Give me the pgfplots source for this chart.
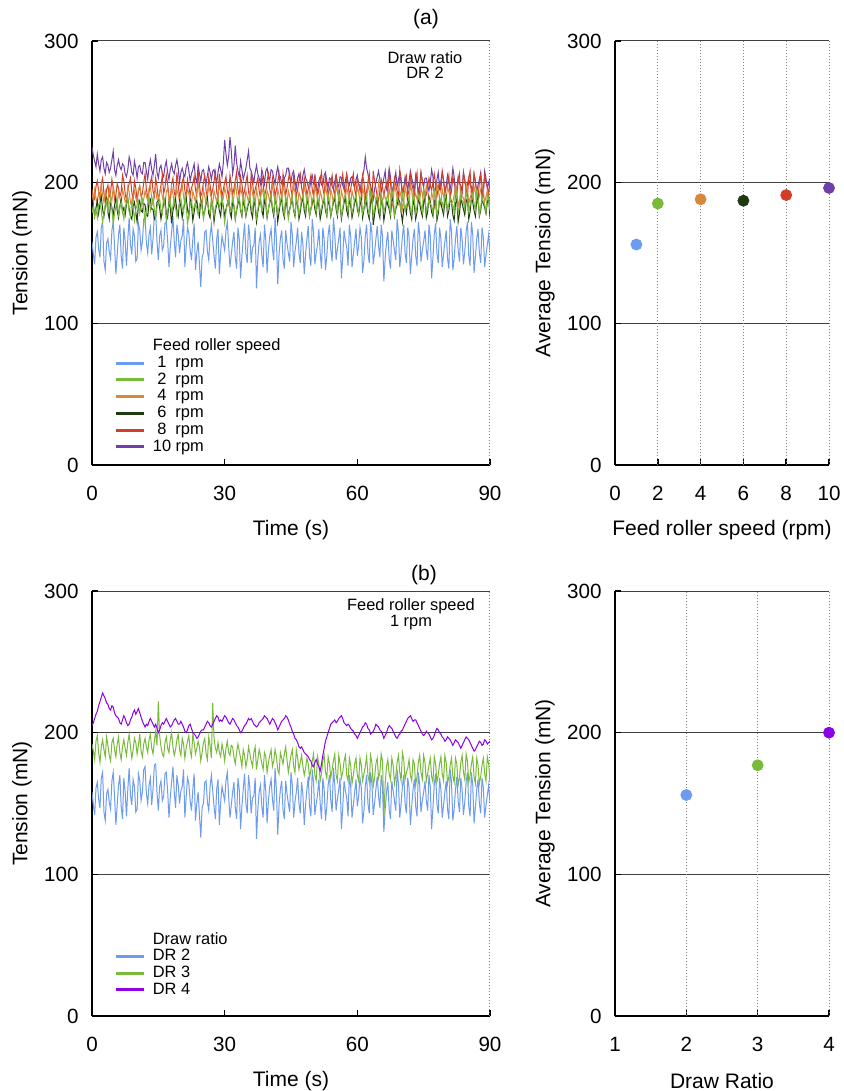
\documentclass[border=0pt]{standalone}
\usepackage{fontspec}
\setmainfont{Liberation Sans}
\usepackage{pgfplots}
\usepackage{pgfplotstable}
\pgfplotsset{compat=1.18}
\definecolor{cB}{HTML}{6C9BF0}
\definecolor{cG}{HTML}{7ABA3A}
\definecolor{cO}{HTML}{D8883A}
\definecolor{cK}{HTML}{1E3A10}
\definecolor{cR}{HTML}{D23E2A}
\definecolor{cP}{HTML}{7040AA}
\definecolor{cV}{HTML}{8C00E6}

\pgfplotstableread{
t b g2 o4 k6 r8 p10 g3 v4
0.0 158 178 192 180 195 225 192 205
0.3 149 183 187 184 190 219 187 207
0.6 142 176 195 176 188 215 181 210
0.9 161 181 189 182 197 211 194 213
1.2 165 175 185 187 201 220 198 215
1.5 153 184 193 178 194 213 186 219
1.8 147 186 188 185 189 208 179 222
2.1 168 180 198 190 199 216 190 225
2.4 172 172 191 181 203 218 195 228
2.7 144 178 186 176 192 210 188 226
3.0 138 184 194 183 186 206 183 224
3.3 157 187 190 188 195 214 197 221
3.6 160 179 184 179 198 212 191 220
3.9 151 185 196 174 190 207 184 217
4.2 146 188 190 186 193 210 180 216
4.5 166 181 187 182 202 216 193 219
4.8 172 170 197 177 196 222 196 218
5.1 155 178 192 184 188 209 188 214
5.4 135 183 186 189 191 205 183 212
5.7 149 188 183 180 199 212 192 211
6.0 163 177 193 175 196 216 197 210
6.3 170 182 189 183 190 211 186 207
6.6 148 186 185 188 193 209 181 206
6.9 139 180 195 179 205 213 190 209
7.2 168 174 191 182 201 212 195 212
7.5 158 183 186 177 192 206 189 210
7.8 141 185 188 185 187 204 184 207
8.1 160 189 197 188 195 209 193 205
8.4 175 179 193 181 199 218 199 206
8.7 156 176 186 176 203 214 190 209
9.0 149 187 183 174 193 207 182 211
9.3 167 183 190 183 188 205 188 214
9.6 162 173 194 186 201 215 196 216
9.9 144 181 189 179 196 210 193 213
10.2 146 184 186 172 187 203 185 215
10.5 171 187 195 184 194 211 191 217
10.8 166 178 198 187 197 212 199 214
11.1 152 183 191 180 190 207 187 211
11.4 158 188 185 179 192 206 183 208
11.7 174 182 188 185 200 214 192 206
12.0 176 171 194 184 206 214 196 204
12.3 157 179 190 177 195 208 190 206
12.6 150 185 187 176 189 202 186 205
12.9 163 190 196 186 193 211 195 208
13.2 168 180 197 188 200 216 199 210
13.5 149 184 189 181 204 209 189 208
13.8 160 189 184 181 194 205 185 206
14.1 177 181 192 174 190 212 194 204
14.4 178 175 195 176 203 220 201 206
14.7 158 183 188 186 197 207 191 203
15.0 145 186 187 187 188 203 222 200
15.3 162 188 194 182 192 210 198 202
15.6 166 181 196 174 198 212 190 205
15.9 152 178 190 180 205 206 185 207
16.2 155 190 186 185 192 204 183 206
16.5 171 184 184 188 196 211 193 208
16.8 172 172 193 178 205 215 197 210
17.1 159 180 196 175 199 207 189 208
17.4 140 184 188 186 190 202 186 206
17.7 154 187 185 182 187 209 195 204
18.0 165 179 197 171 199 213 200 205
18.3 176 183 192 180 203 208 190 207
18.6 158 188 184 184 193 206 184 209
18.9 147 182 189 188 189 212 188 210
19.2 170 176 195 180 207 216 195 208
19.5 163 181 191 176 198 210 199 206
19.8 150 185 187 187 189 200 188 206
20.1 159 188 193 183 195 207 184 208
20.4 162 182 198 175 200 210 196 206
20.7 174 179 190 181 204 206 192 204
21.0 140 190 185 186 194 204 182 201
21.3 155 184 188 189 190 211 189 200
21.6 168 170 196 181 202 214 194 202
21.9 164 178 192 176 197 208 198 205
22.2 152 185 188 188 191 201 187 206
22.5 145 187 185 184 196 206 183 203
22.8 160 179 194 173 199 209 199 200
23.1 171 183 190 179 204 213 193 199
23.4 138 186 186 185 195 203 185 198
23.7 150 181 195 187 190 200 189 196
24.0 158 177 199 180 208 212 194 197
24.3 142 184 192 176 198 206 190 199
24.6 126 187 187 188 190 201 180 201
24.9 147 182 184 183 193 208 186 202
25.2 150 174 195 176 200 209 193 202
25.5 165 180 190 180 205 203 196 204
25.8 166 189 185 185 194 199 185 206
26.1 151 185 191 189 189 205 181 208
26.4 145 181 197 178 204 211 197 207
26.7 162 178 193 175 198 207 191 205
27.0 170 187 188 187 191 202 182 204
27.3 159 183 185 183 195 208 221 206
27.6 148 176 194 172 201 209 196 208
27.9 139 182 190 180 207 204 189 210
28.2 160 186 186 184 193 200 186 212
28.5 167 189 192 187 189 207 193 211
28.8 135 182 198 180 206 213 186 208
29.1 151 185 193 176 198 209 183 209
29.4 162 189 185 188 190 204 192 208
29.7 157 180 189 183 195 214 187 210
30.0 152 171 196 176 200 230 180 212
30.3 166 179 192 181 204 220 189 211
30.6 172 185 187 185 194 212 194 209
30.9 155 188 184 188 190 218 186 207
31.2 140 180 193 179 205 232 184 206
31.5 149 183 197 175 199 222 191 208
31.8 158 189 186 187 191 206 190 210
32.1 165 184 190 183 196 212 183 209
32.4 147 174 199 174 201 226 178 207
32.7 139 182 193 180 207 214 186 205
33.0 168 186 185 185 195 208 192 204
33.3 160 190 188 188 190 204 187 202
33.6 132 181 196 180 204 215 182 200
33.9 148 177 192 176 199 209 176 201
34.2 160 190 188 188 190 202 188 203
34.5 171 186 185 183 194 206 184 205
34.8 150 177 194 176 200 210 176 206
35.1 143 183 190 181 205 216 181 208
35.4 170 186 186 185 193 222 190 210
35.7 161 189 193 188 189 210 185 209
36.0 143 182 197 179 206 208 180 210
36.3 154 179 192 175 200 204 176 208
36.6 155 191 187 187 191 200 186 206
36.9 168 185 184 183 195 207 190 205
37.2 125 175 195 172 199 212 174 204
37.5 146 181 190 179 203 206 181 205
37.8 158 186 184 185 194 203 188 207
38.1 163 189 188 188 189 199 184 208
38.4 148 180 196 180 205 209 178 209
38.7 140 184 192 176 199 205 174 210
39.0 170 192 188 188 190 199 186 212
39.3 159 186 185 184 194 208 183 211
39.6 136 176 194 175 201 210 172 210
39.9 152 181 191 181 206 204 179 208
40.2 162 187 186 186 195 202 184 206
40.5 167 190 193 189 190 209 188 208
40.8 153 183 198 181 203 208 176 210
41.1 145 178 191 176 198 203 180 209
41.4 175 190 187 188 190 199 188 207
41.7 160 185 184 185 195 206 183 205
42.0 128 178 195 172 200 211 174 202
42.3 149 182 191 179 206 205 171 204
42.6 160 187 185 186 194 204 186 206
42.9 166 191 189 188 189 199 182 208
43.2 145 182 197 179 206 197 178 209
43.5 139 177 193 175 200 203 185 210
43.8 166 190 188 187 191 205 190 212
44.1 157 186 185 183 196 210 181 211
44.4 150 174 194 176 202 210 172 209
44.7 144 180 190 181 207 204 178 206
45.0 172 186 186 185 195 200 184 204
45.3 163 189 192 188 190 206 188 201
45.6 140 181 197 180 204 208 176 199
45.9 151 177 193 176 198 201 172 196
46.2 158 189 187 188 190 196 188 195
46.5 168 185 184 184 195 203 182 193
46.8 150 177 193 174 201 206 174 190
47.1 143 182 190 179 206 200 179 189
47.4 165 188 185 186 196 199 184 190
47.7 156 191 189 189 191 205 176 188
48.0 135 183 198 180 203 209 170 186
48.3 149 179 192 176 198 203 175 185
48.6 160 191 187 188 191 201 182 184
48.9 169 186 184 185 195 197 178 183
49.2 148 176 195 176 200 195 168 181
49.5 141 181 191 181 205 202 174 180
49.8 174 187 184 186 195 205 180 177
50.1 165 190 188 189 190 199 185 176
50.4 142 184 196 181 206 200 170 179
50.7 150 179 193 177 199 195 166 181
51.0 156 190 188 187 190 194 183 178
51.3 167 186 184 184 195 201 178 176
51.6 150 178 194 174 201 204 166 173
51.9 139 182 190 179 207 198 171 178
52.2 168 186 185 185 196 198 180 184
52.5 160 190 189 188 191 205 184 189
52.8 138 182 197 180 204 207 172 194
53.1 148 177 192 176 198 201 168 197
53.4 163 191 187 188 191 196 183 200
53.7 170 186 184 184 195 203 178 203
54.0 152 177 195 176 200 202 168 206
54.3 144 181 191 181 205 197 174 207
54.6 175 188 185 186 195 195 180 208
54.9 163 191 188 189 190 201 185 209
55.2 145 183 198 181 206 205 170 207
55.5 153 178 193 176 199 199 166 208
55.8 160 192 188 187 190 197 184 210
56.1 168 186 185 184 196 204 178 211
56.4 132 176 194 174 200 203 168 212
56.7 147 181 190 180 206 198 172 210
57.0 166 189 186 186 196 195 180 207
57.3 159 192 189 189 191 201 184 206
57.6 154 184 196 180 205 206 170 205
57.9 141 179 192 176 199 200 166 206
58.2 170 191 187 188 191 198 182 205
58.5 162 186 184 184 195 203 177 203
58.8 140 178 194 175 201 204 164 202
59.1 149 182 190 180 206 199 170 201
59.4 158 188 185 186 195 196 178 199
59.7 167 191 188 189 190 202 182 198
60.0 148 183 197 181 203 205 170 196
60.3 155 178 193 177 199 199 166 198
60.6 168 190 186 184 197 194 182 200
60.9 161 186 183 188 191 200 177 202
61.2 136 178 196 175 205 204 166 204
61.5 145 182 192 181 200 209 171 205
61.8 162 186 183 188 189 218 176 207
62.1 170 190 187 185 194 210 183 206
62.4 150 181 199 178 200 206 170 203
62.7 143 177 194 174 206 200 165 202
63.0 172 194 185 186 193 198 184 199
63.3 164 189 189 189 188 193 179 200
63.6 142 176 193 170 208 188 162 201
63.9 150 181 190 177 201 195 168 203
64.2 160 187 188 185 196 200 178 206
64.5 169 191 184 188 190 204 182 205
64.8 155 182 200 179 187 208 168 204
65.1 147 178 196 175 194 202 172 202
65.4 170 191 184 189 202 193 185 201
65.7 162 186 187 186 197 198 180 199
66.0 130 179 192 173 190 203 140 196
66.3 146 183 189 179 196 208 164 198
66.6 158 188 187 187 199 196 176 200
66.9 165 192 184 184 193 201 181 203
67.2 146 183 195 181 206 210 171 205
67.5 139 178 191 176 200 204 167 204
67.8 166 195 182 190 188 192 182 203
68.1 159 189 186 186 194 197 177 201
68.4 152 177 198 176 203 201 164 199
68.7 145 182 194 181 198 207 170 197
69.0 174 190 189 184 194 197 179 196
69.3 164 186 185 188 189 202 184 198
69.6 140 185 194 186 209 206 172 199
69.9 150 180 190 179 203 200 166 201
70.2 162 192 181 172 192 189 186 202
70.5 170 187 186 181 197 196 181 204
70.8 150 180 197 183 198 204 167 206
71.1 143 184 192 178 204 199 172 208
71.4 168 186 186 188 190 195 175 210
71.7 161 190 183 185 195 201 181 211
72.0 135 181 199 178 205 208 170 212
72.3 148 177 194 174 199 203 166 210
72.6 160 193 185 187 195 199 181 208
72.9 167 188 189 184 190 194 178 209
73.2 148 178 192 174 202 205 163 209
73.5 141 183 188 179 207 200 169 207
73.8 172 191 190 189 188 192 179 205
74.1 163 187 186 185 193 198 184 203
74.4 144 184 196 180 207 207 172 201
74.7 152 179 192 176 201 201 167 199
75.0 158 196 184 186 196 197 184 198
75.3 166 189 188 189 190 203 179 199
75.6 152 179 198 175 191 203 166 201
75.9 145 183 194 179 197 198 171 200
76.2 170 188 187 190 203 194 177 199
76.5 162 185 184 186 198 200 182 197
76.8 132 183 193 179 194 209 169 195
77.1 147 178 189 176 200 204 165 196
77.4 163 194 182 186 206 191 183 198
77.7 171 189 186 189 199 196 178 201
78.0 150 176 199 173 190 202 165 203
78.3 143 181 195 178 196 207 170 202
78.6 168 190 188 188 200 196 178 200
78.9 160 186 184 185 194 201 183 199
79.2 140 186 195 181 208 207 171 197
79.5 149 181 191 177 202 201 166 196
79.8 158 192 184 187 192 193 184 194
80.1 166 188 188 190 197 198 179 195
80.4 146 180 197 176 199 205 164 197
80.7 139 185 193 180 205 200 169 196
81.0 174 189 190 189 189 195 177 195
81.3 165 185 186 186 194 201 182 193
81.6 138 184 186 177 204 210 169 191
81.9 146 179 191 173 199 204 165 193
82.2 160 195 198 185 197 190 182 195
82.5 169 190 194 188 191 196 178 194
82.8 152 178 183 172 201 204 163 193
83.1 144 183 187 178 206 199 168 191
83.4 168 191 194 188 188 198 179 189
83.7 160 187 190 185 193 193 184 191
84.0 142 186 189 181 207 207 172 193
84.3 151 181 185 177 201 202 167 195
84.6 165 193 199 186 195 194 185 197
84.9 172 189 195 189 190 199 180 196
85.2 148 179 185 174 203 203 165 195
85.5 141 184 189 179 208 198 170 193
85.8 172 188 192 189 190 197 178 191
86.1 163 192 188 186 195 192 183 189
86.4 136 185 197 180 206 206 169 187
86.7 147 180 193 176 200 201 164 188
87.0 160 194 184 187 193 193 182 190
87.3 167 190 187 190 188 198 177 192
87.6 150 177 190 176 200 202 164 194
87.9 143 182 195 180 205 207 169 193
88.2 168 190 199 188 188 196 177 191
88.5 161 186 194 185 194 191 182 192
88.8 140 184 186 182 205 208 171 195
89.1 149 179 190 178 200 203 166 194
89.4 156 192 194 186 197 195 183 192
89.7 163 188 189 189 191 200 178 193
90.0 150 180 188 175 201 203 166 194
}\datatab

\pgfplotsset{
  base/.style={
    scale only axis, ymin=0, ymax=300, ytick={0,100,200,300},
    axis x line=bottom, axis y line=left,
    axis line style={line width=1pt, black, -},
    ymajorgrids, major grid style={line width=0.5pt, black!75},
    tick align=inside, major tick length=3pt,
    tick style={black, line width=0.8pt},
    /pgf/number format/assume math mode=true,
    /pgf/number format/1000 sep={},
    tick label style={font=\fontsize{10.3}{12}\selectfont},
    label style={font=\fontsize{10.5}{12.5}\selectfont},
    xticklabel style={anchor=center, yshift=-14pt},
    yticklabel style={anchor=east, xshift=-3.2pt},
    xlabel style={at={([yshift=-32.5pt]axis description cs:0.5,0)}, anchor=center},
    ylabel style={at={([xshift=-35pt]axis description cs:0,0.5)}, anchor=center},
  },
  ser/.style={line width=0.5pt, forget plot},
  leg/.style={
    legend style={draw=none, fill=none, anchor=north west,
      font=\fontsize{8.2}{9.6}\selectfont, inner sep=0pt, row sep=0pt, column sep=3.5pt,
      nodes={inner sep=0.3pt, text height=6pt, text depth=1.75pt}},
    legend cell align=left,
    legend image code/.code={\draw[##1] (0pt,0pt) -- (14pt,0pt);},
  },
  dot/.style={only marks, mark=*, mark size=2.75pt},
}

\begin{document}
\begin{tikzpicture}
% ---------- (a) left ----------
\begin{axis}[base, leg, at={(46pt,-232.5pt)}, anchor=south west, width=199pt, height=212pt,
  xmin=0, xmax=90, xtick={0,30,60,90},
  xlabel={Time (s)}, ylabel={Tension (mN)},
  legend style={at={(axis description cs:0.055,0.30)}}]
\addlegendimage{empty legend}\addlegendentry{Feed roller speed}
\addlegendimage{cB, line width=1.5pt}\addlegendentry{\makebox[1.1em][c]{1} rpm}
\addlegendimage{cG, line width=1.5pt}\addlegendentry{\makebox[1.1em][c]{2} rpm}
\addlegendimage{cO, line width=1.5pt}\addlegendentry{\makebox[1.1em][c]{4} rpm}
\addlegendimage{cK, line width=1.5pt}\addlegendentry{\makebox[1.1em][c]{6} rpm}
\addlegendimage{cR, line width=1.5pt}\addlegendentry{\makebox[1.1em][c]{8} rpm}
\addlegendimage{cP, line width=1.5pt}\addlegendentry{10 rpm}
\draw[densely dotted, gray, line width=0.5pt] (axis cs:90,0) -- (axis cs:90,300);
\addplot[ser, cB] table[x=t, y=b] {\datatab};
\addplot[ser, cP] table[x=t, y=p10] {\datatab};
\addplot[ser, cR] table[x=t, y=r8] {\datatab};
\addplot[ser, cO] table[x=t, y=o4] {\datatab};
\addplot[ser, cK] table[x=t, y=k6] {\datatab};
\addplot[ser, cG] table[x=t, y=g2] {\datatab};
\end{axis}

% ---------- (a) right ----------
\begin{axis}[base, at={(307.5pt,-232.5pt)}, anchor=south west, width=107pt, height=212pt,
  xmin=0, xmax=10, xtick={0,2,4,6,8,10}, clip=false,
  xlabel={Feed roller speed (rpm)}, ylabel={Average Tension (mN)}]
\pgfplotsinvokeforeach{2,4,6,8,10}{\draw[densely dotted, gray, line width=0.5pt] (axis cs:#1,0) -- (axis cs:#1,300);}
\addplot[dot, cB] coordinates {(1,156)};
\addplot[dot, cG] coordinates {(2,185)};
\addplot[dot, cO] coordinates {(4,188)};
\addplot[dot, cK] coordinates {(6,187)};
\addplot[dot, cR] coordinates {(8,191)};
\addplot[dot, cP] coordinates {(10,196)};
\end{axis}

% ---------- (b) left ----------
\begin{axis}[base, leg, at={(46pt,-508pt)}, anchor=south west, width=199pt, height=212.5pt,
  xmin=0, xmax=90, xtick={0,30,60,90},
  xlabel={Time (s)}, ylabel={Tension (mN)},
  legend style={at={(axis description cs:0.055,0.20)}}]
\addlegendimage{empty legend}\addlegendentry{Draw ratio}
\addlegendimage{cB, line width=1.5pt}\addlegendentry{DR 2}
\addlegendimage{cG, line width=1.5pt}\addlegendentry{DR 3}
\addlegendimage{cV, line width=1.5pt}\addlegendentry{DR 4}
\draw[densely dotted, gray, line width=0.5pt] (axis cs:90,0) -- (axis cs:90,300);
\addplot[ser, cB] table[x=t, y=b] {\datatab};
\addplot[ser, cG] table[x=t, y=g3] {\datatab};
\addplot[ser, cV] table[x=t, y=v4] {\datatab};
\end{axis}

% ---------- (b) right ----------
\begin{axis}[base, at={(307.5pt,-508pt)}, anchor=south west, width=107pt, height=212.5pt,
  xmin=1, xmax=4, xtick={1,2,3,4}, clip=false,
  xlabel={Draw Ratio}, ylabel={Average Tension (mN)}]
\pgfplotsinvokeforeach{2,3,4}{\draw[densely dotted, gray, line width=0.5pt] (axis cs:#1,0) -- (axis cs:#1,300);}
\addplot[dot, cB] coordinates {(2,156)};
\addplot[dot, cG] coordinates {(3,177)};
\addplot[dot, cV] coordinates {(4,200)};
\end{axis}

\node[font=\fontsize{10.5}{12}\selectfont] at (213pt,-9.5pt) {(a)};
\node[font=\fontsize{10.5}{12}\selectfont] at (212pt,-287.5pt) {(b)};
\node[font=\fontsize{8.2}{7.8}\selectfont, align=center] at (212.5pt,-32.5pt) {Draw ratio\\DR 2};
\node[font=\fontsize{8.2}{7.8}\selectfont, align=center] at (205.5pt,-307pt) {Feed roller speed\\1 rpm};

\pgfresetboundingbox
\path (0,0) rectangle (421.5pt,-545.5pt);
\end{tikzpicture}
\end{document}
